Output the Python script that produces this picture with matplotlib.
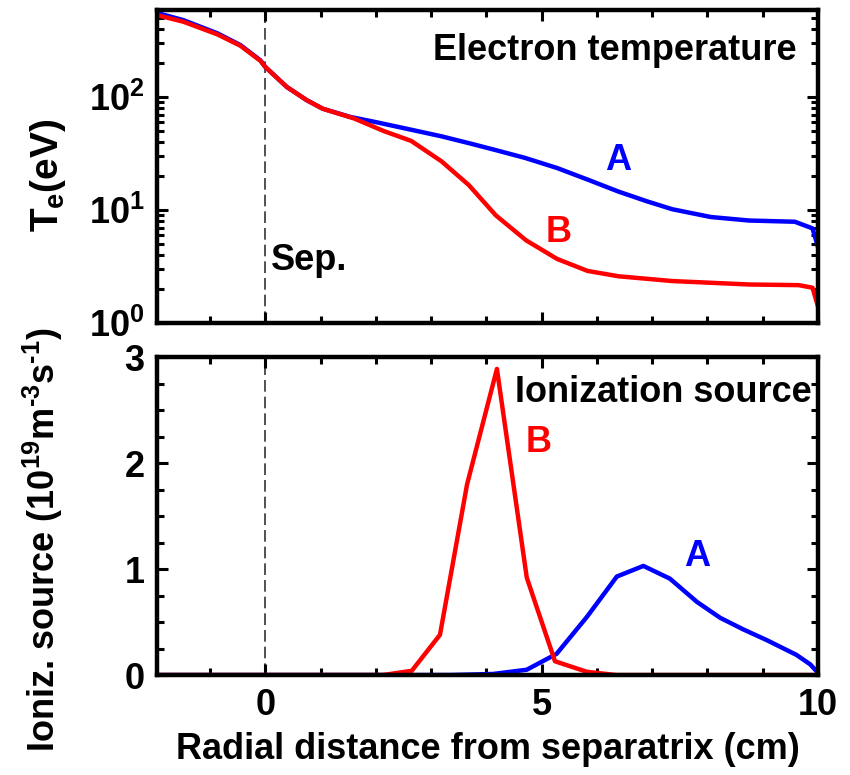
import matplotlib
matplotlib.use("Agg")
import matplotlib.pyplot as plt
from matplotlib.ticker import MultipleLocator, LogLocator, NullFormatter

plt.rcParams["font.family"] = ["Liberation Sans", "DejaVu Sans"]
plt.rcParams["font.weight"] = "bold"
plt.rcParams["mathtext.fontset"] = "custom"
plt.rcParams["mathtext.rm"] = "Liberation Sans:bold"
plt.rcParams["mathtext.it"] = "Liberation Sans:bold"
plt.rcParams["mathtext.bf"] = "Liberation Sans:bold"

# Electron temperature profiles (eV)
x_te_a = [-1.96, -1.48, -0.87, -0.45, -0.09, 0.0, 0.39, 0.75, 1.04, 1.53, 2.01,
          2.6, 3.19, 3.7, 4.17, 4.7, 5.28, 5.85, 6.39, 6.9, 7.36, 8.06, 8.75,
          9.58, 9.9, 10.0]
te_a = [557, 480, 368, 289, 212, 185, 123, 94, 79, 67, 60,
        52, 45, 39, 34, 29, 23.6, 18.5, 14.6, 12, 10.2, 8.7, 8.1,
        7.9, 6.9, 4.7]

x_te_b = [-1.96, -1.48, -0.87, -0.45, -0.09, 0.0, 0.39, 0.75, 1.04, 1.6, 2.15,
          2.64, 3.19, 3.68, 4.17, 4.72, 5.28, 5.83, 6.39, 7.36, 8.75, 9.65,
          9.9, 10.0]
te_b = [532, 465, 360, 285, 210, 185, 123, 94, 79, 65, 50,
        41, 27, 16.7, 9.0, 5.4, 3.7, 2.9, 2.6, 2.36, 2.2, 2.17,
        2.06, 1.4]

# Ionization source (1e19 m^-3 s^-1)
x_src_a = [-1.96, 3.35, 4.12, 4.73, 5.27, 5.82, 6.36, 6.84, 7.32, 7.81, 8.23,
           8.65, 9.07, 9.61, 9.86, 10.0]
src_a = [0, 0, 0.01, 0.05, 0.2, 0.55, 0.93, 1.03, 0.91, 0.69, 0.54,
         0.43, 0.33, 0.19, 0.1, 0.02]

x_src_b = [-1.96, 2.13, 2.65, 3.16, 3.65, 4.19, 4.73, 5.24, 5.82, 6.35, 10.0]
src_b = [0, 0, 0.04, 0.38, 1.8, 2.89, 0.92, 0.13, 0.03, 0.0, 0.0]

BLUE = "#0000ff"
RED = "#ff0000"
FS = 26

fig = plt.figure(figsize=(8.5, 7.75), dpi=100)
ax1 = fig.add_axes([0.1847, 0.583, 0.7777, 0.404])
ax2 = fig.add_axes([0.1847, 0.129, 0.7777, 0.410])


def style(ax):
    for s in ax.spines.values():
        s.set_linewidth(3.2)
    ax.tick_params(which="both", direction="in", top=True, right=True, width=2.2)
    ax.tick_params(which="major", length=8, labelsize=FS, pad=9)
    ax.tick_params(which="minor", length=5)
    ax.xaxis.set_major_locator(MultipleLocator(5))
    ax.xaxis.set_minor_locator(MultipleLocator(1))
    ax.set_xlim(-1.96, 10)
    ax.axvline(0, color="#333333", lw=1.2, ls=(0, (7, 3)), zorder=1)


# -------------------------------
# Top: electron temperature
# -------------------------------
ax1.plot(x_te_a, te_a, color=BLUE, lw=3.2)
ax1.plot(x_te_b, te_b, color=RED, lw=3.2)
ax1.set_yscale("log")
ax1.set_ylim(1, 590)
style(ax1)
ax1.yaxis.set_major_locator(LogLocator(base=10))
ax1.yaxis.set_minor_locator(LogLocator(base=10, subs=range(2, 10)))
ax1.yaxis.set_minor_formatter(NullFormatter())
ax1.set_yticks([1, 10, 100], ["$10^0$", "$10^1$", "$10^2$"])
ax1.set_xticklabels([])

ax1.text(0.968, 0.872, "Electron temperature", transform=ax1.transAxes,
         ha="right", va="center", fontsize=FS, fontweight="bold")
ax1.text(6.38, 27.7, "A", color=BLUE, ha="center", va="center",
         fontsize=FS, fontweight="bold")
ax1.text(5.3, 6.4, "B", color=RED, ha="center", va="center",
         fontsize=FS, fontweight="bold")
ax1.text(0.1, 3.6, "Sep.", ha="left", va="center", fontsize=FS,
         fontweight="bold")

# -------------------------------
# Bottom: ionization source
# -------------------------------
ax2.plot(x_src_a, src_a, color=BLUE, lw=3.2)
ax2.plot(x_src_b, src_b, color=RED, lw=3.2)
ax2.set_ylim(0, 3)
style(ax2)
ax2.yaxis.set_major_locator(MultipleLocator(1))
ax2.yaxis.set_minor_locator(MultipleLocator(0.25))

ax2.text(4.52, 2.67, "Ionization source", ha="left", va="center",
         fontsize=FS, fontweight="bold")
ax2.text(4.94, 2.2, "B", color=RED, ha="center", va="center",
         fontsize=FS, fontweight="bold")
ax2.text(7.81, 1.12, "A", color=BLUE, ha="center", va="center",
         fontsize=FS, fontweight="bold")

ax2.set_xlabel("Radial distance from separatrix (cm)", fontsize=FS,
               fontweight="bold", labelpad=7)

fig.text(48 / 850, 1 - 175 / 775, "$T_e$(eV)", rotation=90, ha="center",
         va="center", fontsize=FS + 2, fontweight="bold")
fig.text(43 / 850, 1 - 540 / 775,
         r"Ioniz. source ($10^{19}$m$^{\text{-3}}$s$^{\text{-1}}$)",
         rotation=90, ha="center", va="center", fontsize=FS,
         fontweight="bold")

fig.savefig("out.png", dpi=100)
